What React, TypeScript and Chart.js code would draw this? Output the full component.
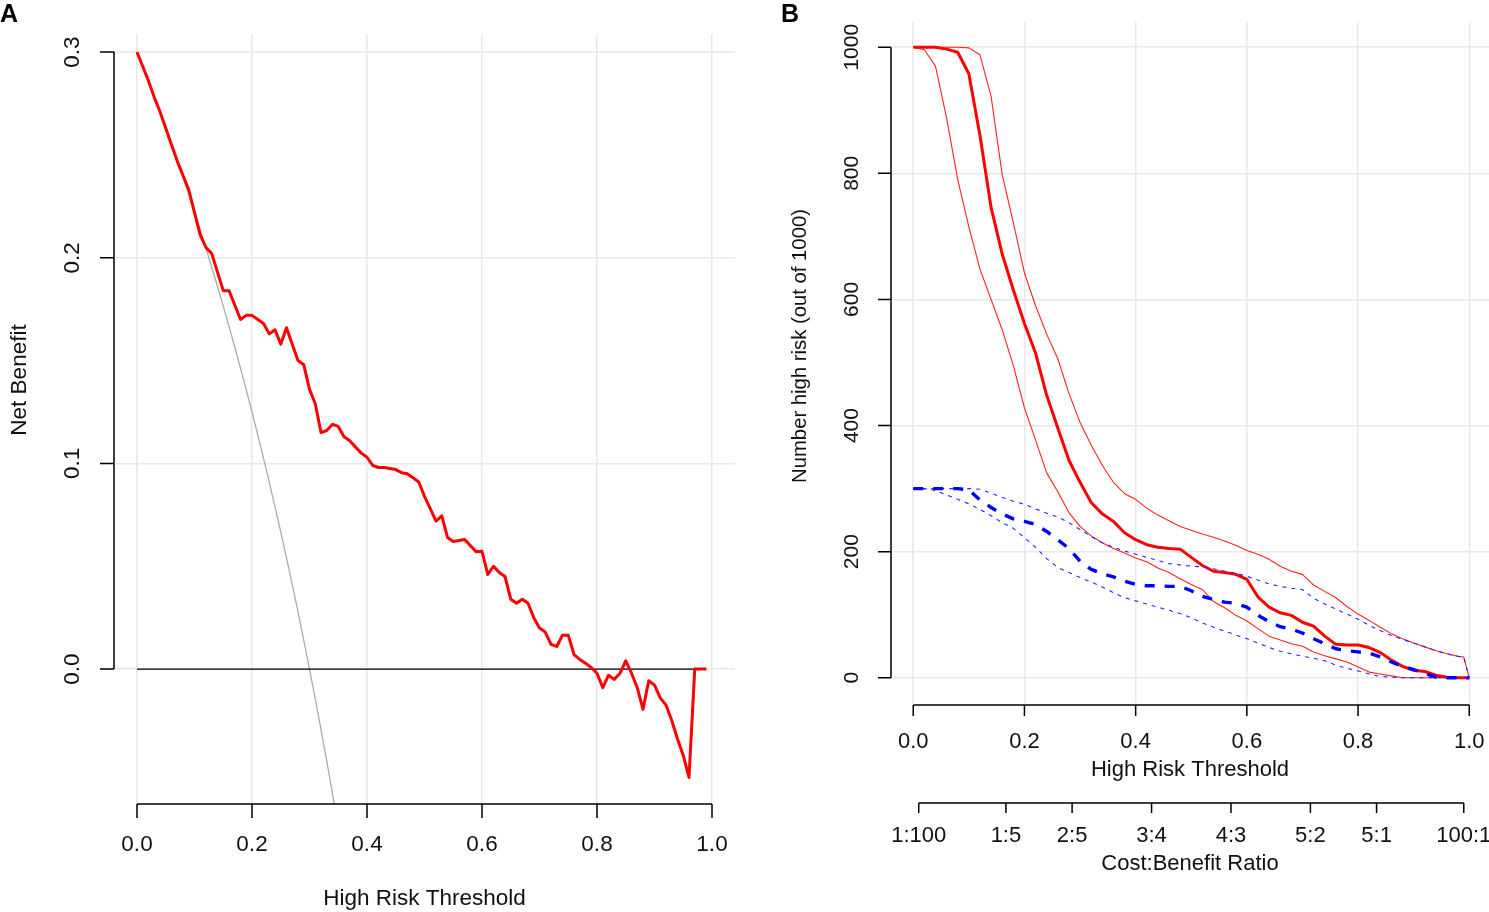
import React, { useEffect, useRef } from 'react';
import { Chart, registerables } from 'chart.js';

Chart.register(...registerables);

// ---------------- Panel A : decision curve ----------------
const thresholdsA = [
  0.00, 0.01, 0.02, 0.03, 0.04, 0.05, 0.06, 0.07, 0.08, 0.09,
  0.10, 0.11, 0.12, 0.13, 0.14, 0.15, 0.16, 0.17, 0.18, 0.19,
  0.20, 0.21, 0.22, 0.23, 0.24, 0.25, 0.26, 0.27, 0.28, 0.29,
  0.30, 0.31, 0.32, 0.33, 0.34, 0.35, 0.36, 0.37, 0.38, 0.39,
  0.40, 0.41, 0.42, 0.43, 0.44, 0.45, 0.46, 0.47, 0.48, 0.49,
  0.50, 0.51, 0.52, 0.53, 0.54, 0.55, 0.56, 0.57, 0.58, 0.59,
  0.60, 0.61, 0.62, 0.63, 0.64, 0.65, 0.66, 0.67, 0.68, 0.69,
  0.70, 0.71, 0.72, 0.73, 0.74, 0.75, 0.76, 0.77, 0.78, 0.79,
  0.80, 0.81, 0.82, 0.83, 0.84, 0.85, 0.86, 0.87, 0.88, 0.89,
  0.90, 0.91, 0.92, 0.93, 0.94, 0.95, 0.96, 0.97, 0.98, 0.99,
];

const modelNB = [
  0.300, 0.293, 0.286, 0.278, 0.271, 0.263, 0.255, 0.247, 0.240, 0.233,
  0.222, 0.211, 0.205, 0.202, 0.193, 0.184, 0.184, 0.177, 0.170, 0.172,
  0.172, 0.170, 0.168, 0.163, 0.165, 0.158, 0.166, 0.158, 0.150, 0.148,
  0.136, 0.129, 0.115, 0.116, 0.119, 0.118, 0.113, 0.111, 0.108, 0.105,
  0.103, 0.099, 0.098, 0.098, 0.0975, 0.097, 0.0955, 0.095, 0.093, 0.091,
  0.084, 0.078, 0.072, 0.0745, 0.064, 0.062, 0.0625, 0.063, 0.060, 0.057,
  0.0573, 0.046, 0.050, 0.047, 0.045, 0.034, 0.032, 0.034, 0.032, 0.025,
  0.020, 0.018, 0.012, 0.011, 0.0165, 0.0165, 0.007, 0.0047, 0.0028, 0.0008,
  -0.002, -0.009, -0.003, -0.005, -0.002, 0.004, -0.002, -0.009, -0.0196, -0.0057,
  -0.0078, -0.014, -0.0175, -0.025, -0.034, -0.042, -0.0527, 0, 0, 0,
];

// treat-all reference (visible part only, thresholds 0.00 .. 0.35)
const treatAllNB = [
  0.3000, 0.2929, 0.2857, 0.2784, 0.2708, 0.2632, 0.2553, 0.2473, 0.2391, 0.2308,
  0.2222, 0.2135, 0.2045, 0.1954, 0.1860, 0.1765, 0.1667, 0.1566, 0.1463, 0.1358,
  0.1250, 0.1139, 0.1026, 0.0909, 0.0789, 0.0667, 0.0541, 0.0411, 0.0278, 0.0141,
  0.0000, -0.0145, -0.0294, -0.0448, -0.0606, -0.0769,
];

const treatNoneThresholds = [0, 0.99];
const treatNoneNB = [0, 0];

const xTicksA = [0, 0.2, 0.4, 0.6, 0.8, 1.0];
const xLabelsA = ['0.0', '0.2', '0.4', '0.6', '0.8', '1.0'];
const yTicksA = [0, 0.1, 0.2, 0.3];
const yLabelsA = ['0.0', '0.1', '0.2', '0.3'];

// ---------------- Panel B : clinical impact curve ----------------
const thresholdsB = [
  0.00, 0.02, 0.04, 0.06, 0.08, 0.10, 0.12, 0.14, 0.16, 0.18,
  0.20, 0.22, 0.24, 0.26, 0.28, 0.30, 0.32, 0.34, 0.36, 0.38,
  0.40, 0.42, 0.44, 0.46, 0.48, 0.50, 0.52, 0.54, 0.56, 0.58,
  0.60, 0.62, 0.64, 0.66, 0.68, 0.70, 0.72, 0.74, 0.76, 0.78,
  0.80, 0.82, 0.84, 0.86, 0.88, 0.90, 0.92, 0.94, 0.96, 0.98,
  0.99, 1.00,
];

const highRisk = [
  1000, 1000, 1000, 997, 992, 958, 860, 746, 672, 615,
  562, 515, 448, 396, 345, 310, 278, 260, 248, 230,
  219, 211, 207, 205, 204, 191, 178, 169, 167, 164,
  156, 128, 112, 103, 99, 88, 82, 66, 53, 52,
  52, 48, 40, 28, 18, 12, 10, 4, 1, 0,
  0, 0,
];
const highRiskUpper = [
  1000, 1000, 1000, 1000, 1000, 999, 988, 922, 798, 722,
  642, 590, 545, 506, 451, 405, 369, 337, 310, 292,
  283, 269, 258, 249, 240, 234, 228, 223, 217, 210,
  202, 196, 188, 177, 169, 164, 147, 137, 127, 113,
  101, 91, 80, 70, 62, 55, 49, 43, 38, 34,
  33, 0,
];
const highRiskLower = [
  1000, 996, 970, 888, 790, 715, 648, 600, 552, 495,
  428, 377, 325, 295, 262, 240, 225, 214, 205, 198,
  190, 184, 174, 167, 157, 148, 140, 121, 111, 99,
  90, 78, 66, 60, 54, 50, 41, 35, 30, 25,
  17, 9, 6, 3, 0, 0, 0, 0, 0, 0,
  0, 0,
];
const withOutcome = [
  300, 300, 300, 300, 300, 298, 282, 270, 260, 252,
  248, 243, 232, 219, 205, 185, 172, 165, 160, 153,
  148, 146, 146, 145, 145, 138, 129, 124, 120, 118,
  112, 99, 89, 81, 77, 71, 62, 54, 46, 43,
  41, 39, 33, 25, 18, 13, 7, 1, 0, 0,
  0, 0,
];
const withOutcomeUpper = [
  300, 300, 300, 300, 300, 300, 299, 293, 286, 280,
  275, 268, 261, 255, 246, 235, 224, 214, 207, 201,
  196, 191, 186, 181, 179, 177, 176, 173, 169, 166,
  161, 155, 149, 145, 142, 140, 126, 117, 109, 101,
  93, 83, 75, 67, 61, 55, 49, 43, 38, 34,
  33, 0,
];
const withOutcomeLower = [
  300, 300, 297, 290, 283, 276, 267, 257, 246, 237,
  222, 207, 189, 175, 167, 159, 152, 144, 135, 127,
  122, 117, 112, 107, 102, 95, 87, 80, 74, 68,
  62, 55, 48, 42, 38, 34, 31, 27, 20, 15,
  11, 6, 2, 1, 0, 0, 0, 0, 0, 0,
  0, 0,
];

const xTicksB = [0, 0.2, 0.4, 0.6, 0.8, 1.0];
const xLabelsB = ['0.0', '0.2', '0.4', '0.6', '0.8', '1.0'];
const yTicksB = [0, 200, 400, 600, 800, 1000];
const yLabelsB = ['0', '200', '400', '600', '800', '1000'];
const costBenefitTicks = [0.0099, 0.1667, 0.2857, 0.4286, 0.5714, 0.7143, 0.8333, 0.9901];
const costBenefitLabels = ['1:100', '1:5', '2:5', '3:4', '4:3', '5:2', '5:1', '100:1'];

// ---------------- helpers ----------------
const FONT = '"Liberation Sans", Arial, Helvetica, sans-serif';
const GRID = '#e8e8e8';
const TEXT = '#111111';

type XAxisSpec = {
  ticks: number[];
  labels: string[];
  lineY: number;
  tickLen: number;
  labelY: number;
  title: string;
  titleY: number;
};

type PanelSpec = {
  letter: string;
  letterX: number;
  letterY: number;
  letterFont: number;
  xFont: number;
  yTickFont: number;
  yTitleFont: number;
  yTicks: number[];
  yLabels: string[];
  yTickLen: number;
  yLabelX: number;
  yTitle: string;
  yTitleX: number;
  yTitleY: number;
  xAxes: XAxisSpec[];
};

const makeAxesPlugin = (spec: PanelSpec) => ({
  id: 'rStyleAxes',
  afterDraw(chart: any) {
    const { ctx, chartArea } = chart;
    const xs = chart.scales.x;
    const ys = chart.scales.y;
    ctx.save();
    ctx.strokeStyle = '#000';
    ctx.lineWidth = 1.5;
    ctx.fillStyle = TEXT;
    ctx.textAlign = 'center';
    ctx.textBaseline = 'middle';

    // y axis
    const ax = chartArea.left;
    const yp = spec.yTicks.map((v) => ys.getPixelForValue(v));
    ctx.beginPath();
    ctx.moveTo(ax, Math.min(...yp));
    ctx.lineTo(ax, Math.max(...yp));
    yp.forEach((p) => {
      ctx.moveTo(ax - spec.yTickLen, p);
      ctx.lineTo(ax, p);
    });
    ctx.stroke();
    ctx.font = `${spec.yTickFont}px ${FONT}`;
    yp.forEach((p, i) => {
      ctx.save();
      ctx.translate(spec.yLabelX, p);
      ctx.rotate(-Math.PI / 2);
      ctx.fillText(spec.yLabels[i], 0, 0);
      ctx.restore();
    });
    ctx.font = `${spec.yTitleFont}px ${FONT}`;
    ctx.save();
    ctx.translate(spec.yTitleX, spec.yTitleY);
    ctx.rotate(-Math.PI / 2);
    ctx.fillText(spec.yTitle, 0, 0);
    ctx.restore();

    // x axes
    ctx.font = `${spec.xFont}px ${FONT}`;
    const cx = (chartArea.left + chartArea.right) / 2;
    spec.xAxes.forEach((a) => {
      const xp = a.ticks.map((v) => xs.getPixelForValue(v));
      ctx.beginPath();
      ctx.moveTo(Math.min(...xp), a.lineY);
      ctx.lineTo(Math.max(...xp), a.lineY);
      xp.forEach((p) => {
        ctx.moveTo(p, a.lineY);
        ctx.lineTo(p, a.lineY + a.tickLen);
      });
      ctx.stroke();
      xp.forEach((p, i) => ctx.fillText(a.labels[i], p, a.labelY));
      ctx.fillText(a.title, cx, a.titleY);
    });

    // panel letter
    ctx.font = `bold ${spec.letterFont}px ${FONT}`;
    ctx.textAlign = 'left';
    ctx.textBaseline = 'alphabetic';
    ctx.fillStyle = '#000';
    ctx.fillText(spec.letter, spec.letterX, spec.letterY);
    ctx.restore();
  },
});

const pts = (xs: number[], ys: number[]) => ys.map((y, i) => ({ x: xs[i], y }));

const scaleOpts = (min: number, max: number, ticks: number[], horizontal: boolean) => ({
  type: 'linear' as const,
  min,
  max,
  afterBuildTicks: (s: any) => {
    s.ticks = ticks.map((v) => ({ value: v }));
  },
  afterFit: (s: any) => {
    if (horizontal) s.height = 0;
    else s.width = 0;
  },
  ticks: { display: false },
  grid: { color: GRID, lineWidth: 1.5, drawTicks: false },
  border: { display: false },
});

const specA: PanelSpec = {
  letter: 'A',
  letterX: 0,
  letterY: 22,
  letterFont: 25,
  xFont: 22.5,
  yTickFont: 22.5,
  yTitleFont: 22.5,
  yTicks: yTicksA,
  yLabels: yLabelsA,
  yTickLen: 14,
  yLabelX: 73,
  yTitle: 'Net Benefit',
  yTitleX: 20,
  yTitleY: 380,
  xAxes: [
    { ticks: xTicksA, labels: xLabelsA, lineY: 804, tickLen: 14, labelY: 845, title: 'High Risk Threshold', titleY: 899 },
  ],
};

const specB: PanelSpec = {
  letter: 'B',
  letterX: 1,
  letterY: 22,
  letterFont: 25,
  xFont: 22,
  yTickFont: 21,
  yTitleFont: 20.3,
  yTicks: yTicksB,
  yLabels: yLabelsB,
  yTickLen: 13,
  yLabelX: 72,
  yTitle: 'Number high risk (out of 1000)',
  yTitleX: 20,
  yTitleY: 346,
  xAxes: [
    { ticks: xTicksB, labels: xLabelsB, lineY: 705, tickLen: 11, labelY: 742, title: 'High Risk Threshold', titleY: 770 },
    { ticks: costBenefitTicks, labels: costBenefitLabels, lineY: 803, tickLen: 10, labelY: 836, title: 'Cost:Benefit Ratio', titleY: 864 },
  ],
};

export default function App() {
  const refA = useRef<HTMLCanvasElement | null>(null);
  const refB = useRef<HTMLCanvasElement | null>(null);

  useEffect(() => {
    if (!refA.current || !refB.current) return;
    const base = { pointRadius: 0, tension: 0, fill: false, borderJoinStyle: 'round' as const };

    const chartA = new Chart(refA.current, {
      type: 'line',
      data: {
        datasets: [
          { ...base, label: 'Model', data: pts(thresholdsA, modelNB), borderColor: '#ff0000', borderWidth: 3 },
          { ...base, label: 'None', data: pts(treatNoneThresholds, treatNoneNB), borderColor: '#000000', borderWidth: 1.4 },
          { ...base, label: 'All', data: pts(thresholdsA, treatAllNB), borderColor: '#ababab', borderWidth: 1.3 },
        ],
      },
      options: {
        responsive: false,
        animation: false,
        events: [],
        layout: { padding: { left: 114, top: 34, right: 45, bottom: 108 } },
        plugins: { legend: { display: false }, tooltip: { enabled: false } },
        scales: {
          x: scaleOpts(-0.04, 1.04, xTicksA, true),
          y: scaleOpts(-0.0656, 0.3088, yTicksA, false),
        },
      },
      plugins: [makeAxesPlugin(specA)],
    });

    const chartB = new Chart(refB.current, {
      type: 'line',
      data: {
        datasets: [
          { ...base, label: 'Number high risk with outcome', data: pts(thresholdsB, withOutcome), borderColor: '#0000ff', borderWidth: 3.4, borderDash: [10, 10] },
          { ...base, label: 'With outcome upper', data: pts(thresholdsB, withOutcomeUpper), borderColor: '#2626ff', borderWidth: 1.1, borderDash: [4, 5] },
          { ...base, label: 'With outcome lower', data: pts(thresholdsB, withOutcomeLower), borderColor: '#2626ff', borderWidth: 1.1, borderDash: [4, 5] },
          { ...base, label: 'Number high risk', data: pts(thresholdsB, highRisk), borderColor: '#ff0000', borderWidth: 3 },
          { ...base, label: 'High risk upper', data: pts(thresholdsB, highRiskUpper), borderColor: '#ff2020', borderWidth: 1.1 },
          { ...base, label: 'High risk lower', data: pts(thresholdsB, highRiskLower), borderColor: '#ff2020', borderWidth: 1.1 },
        ],
      },
      options: {
        responsive: false,
        animation: false,
        events: [],
        layout: { padding: { left: 111, top: 22, right: 0, bottom: 209 } },
        plugins: { legend: { display: false }, tooltip: { enabled: false } },
        scales: {
          x: scaleOpts(-0.04, 1.0355, xTicksB, true),
          y: scaleOpts(-40, 1040, yTicksB, false),
        },
      },
      plugins: [makeAxesPlugin(specB)],
    });

    return () => {
      chartA.destroy();
      chartB.destroy();
    };
  }, []);

  return (
    <div style={{ position: 'absolute', left: 0, top: 0, width: 1489, height: 912, background: '#ffffff', overflow: 'hidden' }}>
      <canvas ref={refA} width={780} height={912} style={{ position: 'absolute', left: 0, top: 0, width: 780, height: 912 }} />
      <canvas ref={refB} width={709} height={912} style={{ position: 'absolute', left: 780, top: 0, width: 709, height: 912 }} />
    </div>
  );
}
